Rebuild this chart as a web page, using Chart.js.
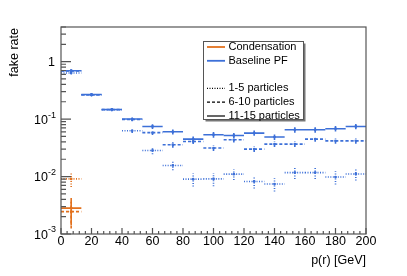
<!DOCTYPE html>
<html>
<head>
<meta charset="utf-8">
<script src="https://cdn.jsdelivr.net/npm/chart.js@4"></script>
<style>
  body { margin: 0; background: #fff; }
  #wrap { width: 407px; height: 276px; }
</style>
</head>
<body>
<div id="wrap"><canvas id="grafico" width="407" height="276"></canvas></div>
<script>
// bins of p(r) in GeV (centres), each 13.33 GeV wide
var binCenters = [6.67, 20, 33.33, 46.67, 60, 73.33, 86.67, 100, 113.33, 126.67, 140, 153.33, 166.67, 180, 193.33];
var binHalfWidth = 6.67;

// Baseline PF fake rate
var pf1to5 = [0.633, 0.265, 0.145, 0.0625, 0.0284, 0.0156, 0.0090, 0.0091, 0.0110, 0.0082, 0.0074, 0.0117, 0.0117, 0.0098, 0.0111];
var pf1to5Err = [0.03, 0.012, 0.008, 0.005, 0.004, 0.0027, 0.0023, 0.0023, 0.0023, 0.002, 0.0019, 0.0026, 0.0026, 0.0025, 0.0026];
var pf6to10 = [0.69, 0.262, 0.146, 0.098, 0.058, 0.0358, 0.0407, 0.0313, 0.0436, 0.030, 0.0367, 0.0367, 0.0448, 0.0418, 0.0418];
var pf6to10Err = [0.03, 0.012, 0.008, 0.006, 0.005, 0.004, 0.004, 0.0035, 0.0045, 0.0033, 0.004, 0.004, 0.0045, 0.0045, 0.0045];
var pf11to15 = [0.694, 0.268, 0.147, 0.100, 0.0743, 0.060, 0.0448, 0.0533, 0.0518, 0.057, 0.0486, 0.065, 0.065, 0.068, 0.0743];
var pf11to15Err = [0.025, 0.01, 0.006, 0.006, 0.007, 0.006, 0.005, 0.006, 0.0055, 0.006, 0.0052, 0.007, 0.007, 0.0075, 0.008];

// Condensation fake rate (first bin only)
var condCenters = [6.67];
var cond1to5 = [0.0091];
var cond1to5Err = [0.0025];
var cond6to10 = [0.00245];
var cond6to10Err = [0.0012];
var cond11to15 = [0.00282];
var cond11to15Err = [0.0014];

// axes
var xTicks = [0, 20, 40, 60, 80, 100, 120, 140, 160, 180, 200];
var yTicks = [1, 0.1, 0.01, 0.001];
var yTickBase = ['1', '10', '10', '10'];
var yTickExp = ['', '-1', '-2', '-3'];

var corLaranja = '#e2711d';
var corAzul = '#3d70d8';
var pontilhado = [1, 1.5];
var tracejado = [3, 2];

function pontos(xs, ys) {
    return ys.map(function (v, i) { return { x: xs[i], y: v }; });
}

function serie(xs, ys, errs, cor, dash) {
    return {
        data: pontos(xs, ys),
        errors: errs,
        borderColor: cor,
        backgroundColor: cor,
        dash: dash,
        pointRadius: 1.4,
        pointBorderWidth: 0,
        showLine: false
    };
}

var fonte = '"Liberation Sans", Arial, sans-serif';

var histPlugin = {
    id: 'hist',
    beforeDatasetsDraw: function (chart) {
        var ctx = chart.ctx;
        var xs = chart.scales.x, ys = chart.scales.y;
        var area = chart.chartArea;
        ctx.save();
        chart.data.datasets.forEach(function (ds) {
            ctx.strokeStyle = ds.borderColor;
            ctx.lineWidth = 1.6;
            ctx.setLineDash(ds.dash);
            ds.data.forEach(function (p, i) {
                var y = ys.getPixelForValue(p.y);
                var x0 = xs.getPixelForValue(p.x - binHalfWidth);
                var x1 = xs.getPixelForValue(p.x + binHalfWidth);
                var xc = xs.getPixelForValue(p.x);
                var lo = p.y - ds.errors[i];
                var yLo = lo > 0 ? ys.getPixelForValue(lo) : area.bottom;
                var yHi = ys.getPixelForValue(p.y + ds.errors[i]);
                ctx.beginPath();
                ctx.moveTo(x0, y);
                ctx.lineTo(x1, y);
                ctx.moveTo(xc, Math.min(yLo, area.bottom));
                ctx.lineTo(xc, yHi);
                ctx.stroke();
            });
        });
        ctx.restore();
    },
    afterDraw: function (chart) {
        var ctx = chart.ctx;
        var xs = chart.scales.x, ys = chart.scales.y;
        var a = chart.chartArea;
        ctx.save();
        ctx.setLineDash([]);
        ctx.strokeStyle = '#555';
        ctx.lineWidth = 1.2;
        ctx.strokeRect(a.left, a.top, a.right - a.left, a.bottom - a.top);

        // x ticks (inward)
        ctx.beginPath();
        for (var v = 0; v <= 200; v += 4) {
            var px = xs.getPixelForValue(v);
            var len = (v % 20 === 0) ? 6 : 3;
            ctx.moveTo(px, a.bottom);
            ctx.lineTo(px, a.bottom - len);
        }
        // y ticks (inward), log decades with minor ticks
        for (var d = -3; d <= 0; d++) {
            for (var m = 1; m <= 9; m++) {
                var val = m * Math.pow(10, d);
                if (val > ys.max) break;
                var py = ys.getPixelForValue(val);
                var l = (m === 1) ? 10 : 5;
                ctx.moveTo(a.left, py);
                ctx.lineTo(a.left + l, py);
            }
        }
        ctx.stroke();

        // tick labels
        ctx.fillStyle = '#000';
        ctx.font = '12.5px ' + fonte;
        ctx.textAlign = 'center';
        ctx.textBaseline = 'middle';
        xTicks.forEach(function (t) {
            ctx.fillText(String(t), xs.getPixelForValue(t), a.bottom + 8);
        });
        yTicks.forEach(function (t, i) {
            var py = ys.getPixelForValue(t);
            var right = a.left - 5;
            ctx.textAlign = 'right';
            if (yTickExp[i]) {
                ctx.font = '9px ' + fonte;
                var w = ctx.measureText(yTickExp[i]).width;
                ctx.fillText(yTickExp[i], right, py - 4);
                ctx.font = '12.5px ' + fonte;
                ctx.fillText(yTickBase[i], right - w, py + 1.5);
            } else {
                ctx.font = '12.5px ' + fonte;
                ctx.fillText(yTickBase[i], right - 1, py + 0.5);
            }
        });

        // axis titles
        ctx.font = '12.5px ' + fonte;
        ctx.textAlign = 'right';
        ctx.fillText('p(r) [GeV]', a.right, 261);
        ctx.save();
        ctx.translate(15, a.top + 1);
        ctx.rotate(-Math.PI / 2);
        ctx.textAlign = 'right';
        ctx.fillText('fake rate', 0, 0);
        ctx.restore();

        // legend
        var lx = 203.5, ly = 41.5, lw = 100, lh = 78;
        ctx.fillStyle = '#777';
        ctx.fillRect(lx + 2, ly + 2, lw, lh);
        ctx.fillStyle = '#fff';
        ctx.fillRect(lx, ly, lw, lh);
        ctx.strokeStyle = '#555';
        ctx.lineWidth = 1;
        ctx.strokeRect(lx, ly, lw, lh);
        var itens = [
            ['Condensation', corLaranja, []],
            ['Baseline PF', corAzul, []],
            null,
            ['1-5 particles', '#000', pontilhado],
            ['6-10 particles', '#000', tracejado],
            ['11-15 particles', '#000', []]
        ];
        ctx.font = '11px ' + fonte;
        ctx.textAlign = 'left';
        itens.forEach(function (it, i) {
            if (!it) return;
            var yy = 47 + i * 13.8;
            ctx.strokeStyle = it[1];
            ctx.lineWidth = (it[1] === '#000') ? 1.2 : 1.8;
            ctx.setLineDash(it[2]);
            ctx.beginPath();
            ctx.moveTo(207, yy);
            ctx.lineTo(225, yy);
            ctx.stroke();
            ctx.setLineDash([]);
            ctx.fillStyle = '#000';
            ctx.fillText(it[0], 228.5, yy);
        });
        ctx.restore();
    }
};

new Chart(document.getElementById('grafico'), {
    type: 'scatter',
    data: {
        datasets: [
            serie(binCenters, pf1to5, pf1to5Err, corAzul, pontilhado),
            serie(binCenters, pf6to10, pf6to10Err, corAzul, tracejado),
            serie(binCenters, pf11to15, pf11to15Err, corAzul, []),
            serie(condCenters, cond1to5, cond1to5Err, corLaranja, pontilhado),
            serie(condCenters, cond6to10, cond6to10Err, corLaranja, tracejado),
            serie(condCenters, cond11to15, cond11to15Err, corLaranja, [])
        ]
    },
    options: {
        responsive: false,
        animation: false,
        layout: { padding: { left: 61, right: 41, top: 27, bottom: 42 } },
        scales: {
            x: { type: 'linear', min: 0, max: 200, display: false },
            y: { type: 'logarithmic', min: 0.001, max: 4, display: false }
        },
        plugins: {
            legend: { display: false },
            tooltip: { enabled: false }
        }
    },
    plugins: [histPlugin]
});
</script>
</body>
</html>
